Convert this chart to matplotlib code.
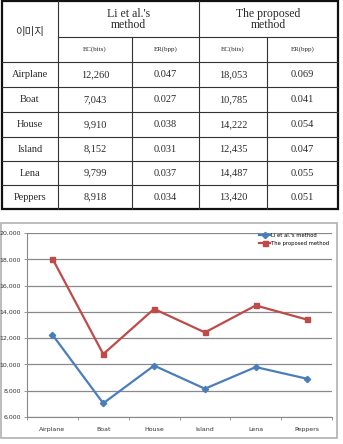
import matplotlib
matplotlib.use("Agg")
import matplotlib.pyplot as plt
from matplotlib.patches import Rectangle

images = ["Airplane", "Boat", "House", "Island", "Lena", "Peppers"]
li_ec = [12260, 7043, 9910, 8152, 9799, 8918]
li_er = [0.047, 0.027, 0.038, 0.031, 0.037, 0.034]
pr_ec = [18053, 10785, 14222, 12435, 14487, 13420]
pr_er = [0.069, 0.041, 0.054, 0.047, 0.055, 0.051]
header_first = "이미지"
method_names = ["Li et al.'s\nmethod", "The proposed\nmethod"]
sub_headers = ["EC(bits)", "ER(bpp)", "EC(bits)", "ER(bpp)"]
legend_labels = ["Li et al.'s method", "The proposed method"]
yticks = [6000, 8000, 10000, 12000, 14000, 16000, 18000, 20000]

W, H = 343, 444
fig = plt.figure(figsize=(W / 100, H / 100), dpi=100)
fig.patch.set_facecolor("white")

# ---------- table ----------
tab = fig.add_axes([0, 0, 1, 1])
tab.set_xlim(0, W)
tab.set_ylim(H, 0)
tab.axis("off")

xs = [2, 58, 132, 199, 267, 338]
ys = [1, 37, 62, 87, 112, 137, 161, 185, 209]
serif = ["Liberation Serif", "DejaVu Serif"]
kor = ["Noto Sans CJK KR", "DejaVu Sans"]
lc = "#333333"

tab.add_patch(Rectangle((xs[0], ys[0]), xs[-1] - xs[0], ys[-1] - ys[0],
                        fill=False, ec="#111111", lw=1.6))
tab.plot([xs[1], xs[-1]], [ys[1], ys[1]], color=lc, lw=0.8)
for y in ys[2:-1]:
    tab.plot([xs[0], xs[-1]], [y, y], color=lc, lw=0.8)
tab.plot([xs[1], xs[1]], [ys[0], ys[-1]], color=lc, lw=0.8)
tab.plot([xs[3], xs[3]], [ys[0], ys[-1]], color=lc, lw=0.8)
tab.plot([xs[2], xs[2]], [ys[1], ys[-1]], color=lc, lw=0.8)
tab.plot([xs[4], xs[4]], [ys[1], ys[-1]], color=lc, lw=0.8)

tc = "#2a2a2a"
tab.text((xs[0] + xs[1]) / 2, (ys[0] + ys[2]) / 2, header_first,
         ha="center", va="center", fontsize=7.5, family=kor, color=tc)
for i, name in enumerate(method_names):
    cx = (xs[1 + 2 * i] + xs[3 + 2 * i]) / 2
    tab.text(cx, (ys[0] + ys[1]) / 2 + 0.5, name, ha="center", va="center",
             fontsize=8.5, family=serif, color=tc, linespacing=0.85)
for j, sh in enumerate(sub_headers):
    cx = (xs[1 + j] + xs[2 + j]) / 2
    tab.text(cx, (ys[1] + ys[2]) / 2, sh, ha="center", va="center",
             fontsize=5, family=serif, color=tc)
for r, img in enumerate(images):
    cy = (ys[2 + r] + ys[3 + r]) / 2
    vals = [img, f"{li_ec[r]:,}", f"{li_er[r]:.3f}", f"{pr_ec[r]:,}", f"{pr_er[r]:.3f}"]
    for c, v in enumerate(vals):
        cx = (xs[c] + xs[c + 1]) / 2
        tab.text(cx, cy, v, ha="center", va="center", fontsize=7.5,
                 family=serif, color=tc)

tab.add_patch(Rectangle((1, 223), 336, 215, fill=False, ec="#b0b0b0", lw=1.2))

# ---------- chart ----------
left, right, top, bottom = 27, 332, 233, 417
ax = fig.add_axes([left / W, (H - bottom) / H, (right - left) / W, (bottom - top) / H])
ax.set_facecolor("none")
x = list(range(len(images)))
blue = "#4A7EBB"
red = "#BE4B48"
ax.plot(x, li_ec, color=blue, lw=1.6, marker="D", ms=3.2, label=legend_labels[0])
ax.plot(x, pr_ec, color=red, lw=1.6, marker="s", ms=3.6, label=legend_labels[1])
ax.set_xlim(-0.5, len(images) - 0.5)
ax.set_ylim(6000, 20000)
ax.set_yticks(yticks)
ax.set_yticklabels([f"{v:,}" for v in yticks])
ax.yaxis.grid(True, color="#8a8a8a", lw=0.9)
ax.set_axisbelow(True)
ax.set_xticks(x)
ax.set_xticklabels(images)
ax.set_xticks([i - 0.5 for i in range(len(images) + 1)], minor=True)
ax.tick_params(axis="x", which="major", length=0, labelsize=4.5, pad=7, colors="#333333")
ax.tick_params(axis="x", which="minor", length=2.5, width=0.6, color="#888888")
ax.tick_params(axis="y", length=2.5, width=0.6, color="#888888", labelsize=4.5,
               pad=2, labelcolor="#333333")
for s in ["top", "right"]:
    ax.spines[s].set_visible(False)
ax.spines["left"].set_color("#888888")
ax.spines["bottom"].set_color("#888888")
ax.spines["left"].set_linewidth(0.8)
ax.spines["bottom"].set_linewidth(0.8)
narrow = ["Liberation Sans Narrow", "DejaVu Sans"]
for t in ax.get_xticklabels() + ax.get_yticklabels():
    t.set_family(narrow)

leg = ax.legend(loc="upper left", bbox_to_anchor=(0.762, 1.0), frameon=False,
                fontsize=3.8, handlelength=2.0, handletextpad=0.2,
                labelspacing=0.6, borderaxespad=0, borderpad=0)
for t in leg.get_texts():
    t.set_family(narrow)

fig.savefig("out.png", dpi=100)
